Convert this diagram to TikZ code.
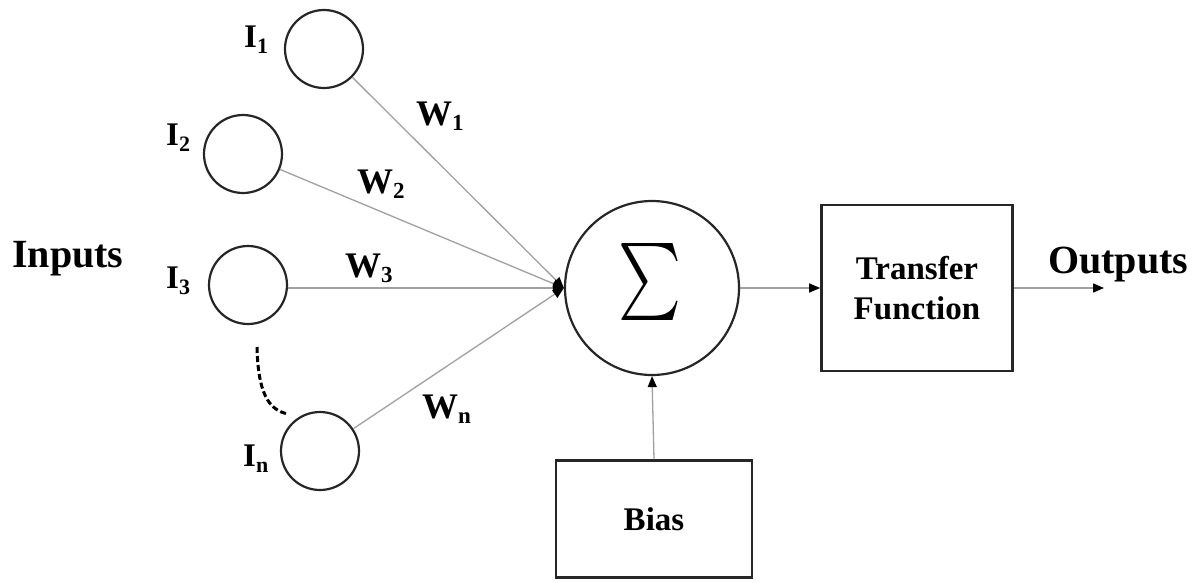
\documentclass[tikz,border=0pt]{standalone}
\usepackage{fontspec}
\usepackage{graphicx}
\setmainfont{Liberation Serif}
\usetikzlibrary{arrows.meta}

\definecolor{strokegray}{HTML}{262626}
\definecolor{wiregray}{HTML}{A0A0A0}

% weight / input labels with a lowered subscript
\newcommand\wlabel[1]{{\fontsize{36}{36}\selectfont W}\raisebox{-5pt}{\fontsize{23}{23}\selectfont #1}}
\newcommand\ilabel[1]{{\fontsize{33}{33}\selectfont I}\raisebox{-6pt}{\fontsize{22}{22}\selectfont #1}}

\tikzset{
  neuron/.style={circle, draw=strokegray, line width=2.2pt, inner sep=0pt, minimum size=78pt},
  summer/.style={circle, draw=strokegray, line width=2.2pt, inner sep=0pt, minimum size=174pt},
  block/.style={rectangle, draw=strokegray, line width=2.6pt, inner sep=0pt, align=center,
                font=\bfseries\fontsize{33}{40}\selectfont},
  bigword/.style={inner sep=0pt, anchor=base west, font=\bfseries\fontsize{40}{40}\selectfont},
  tag/.style={inner sep=0pt, anchor=base west, font=\bfseries},
  wire/.style={draw=wiregray, line width=1.3pt, -{Triangle[length=11pt,width=9pt,color=black]}},
  dots/.style={draw=black, line width=3pt, dash pattern=on 6pt off 3pt}
}

\begin{document}
\begin{tikzpicture}[x=1pt,y=-1pt]
  \useasboundingbox (0,0) rectangle (1195,582);

  % input neurons
  \node[neuron] (i1) at (324,49) {};
  \node[neuron] (i2) at (243,154) {};
  \node[neuron] (i3) at (248,285) {};
  \node[neuron] (in) at (320,451) {};

  % summing junction
  \node[summer] (sum) at (652,288) {};
  \node[inner sep=0pt] (sigma) at (650,282) {\resizebox*{63pt}{77pt}{$\sum$}};

  % blocks
  \node[block, minimum width=191pt, minimum height=166pt] (tf) at (917,288) {Transfer\\Function};
  \node[block, minimum width=196pt, minimum height=117pt] (bias) at (654,519) {Bias};

  % text labels
  \node[bigword] (inputs) at (12,267) {Inputs};
  \node[bigword] (outputs) at (1048,273) {Outputs};

  \node[tag] (l1) at (244,47) {\ilabel{1}};
  \node[tag] (l2) at (166,145) {\ilabel{2}};
  \node[tag] (l3) at (166,288) {\ilabel{3}};
  \node[tag] (ln) at (243,466) {\ilabel{n}};

  \node[tag] (w1) at (416,125) {\wlabel{1}};
  \node[tag] (w2) at (357,193) {\wlabel{2}};
  \node[tag] (w3) at (345,277) {\wlabel{3}};
  \node[tag] (wn) at (422,418) {\wlabel{n}};

  % weighted connections into the summer
  \draw[wire] (i1) -- (sum.west);
  \draw[wire] (i2) -- (sum.west);
  \draw[wire] (i3.east |- sum.west) -- (sum.west);
  \draw[wire] (in) -- (sum.west);

  % bias, transfer and output
  \draw[wire] (bias.north) -- (sum.south);
  \draw[wire] (sum.east) -- (tf.west);
  \coordinate (outend) at (1104,288);
  \draw[wire] (tf.east) -- (outend);

  % ellipsis between the third and the last input
  \coordinate (dtop) at (257,347);
  \coordinate (dbot) at (288,414);
  \draw[dots] (dtop) .. controls (258,392) and (268,410) .. (dbot);
\end{tikzpicture}
\end{document}
